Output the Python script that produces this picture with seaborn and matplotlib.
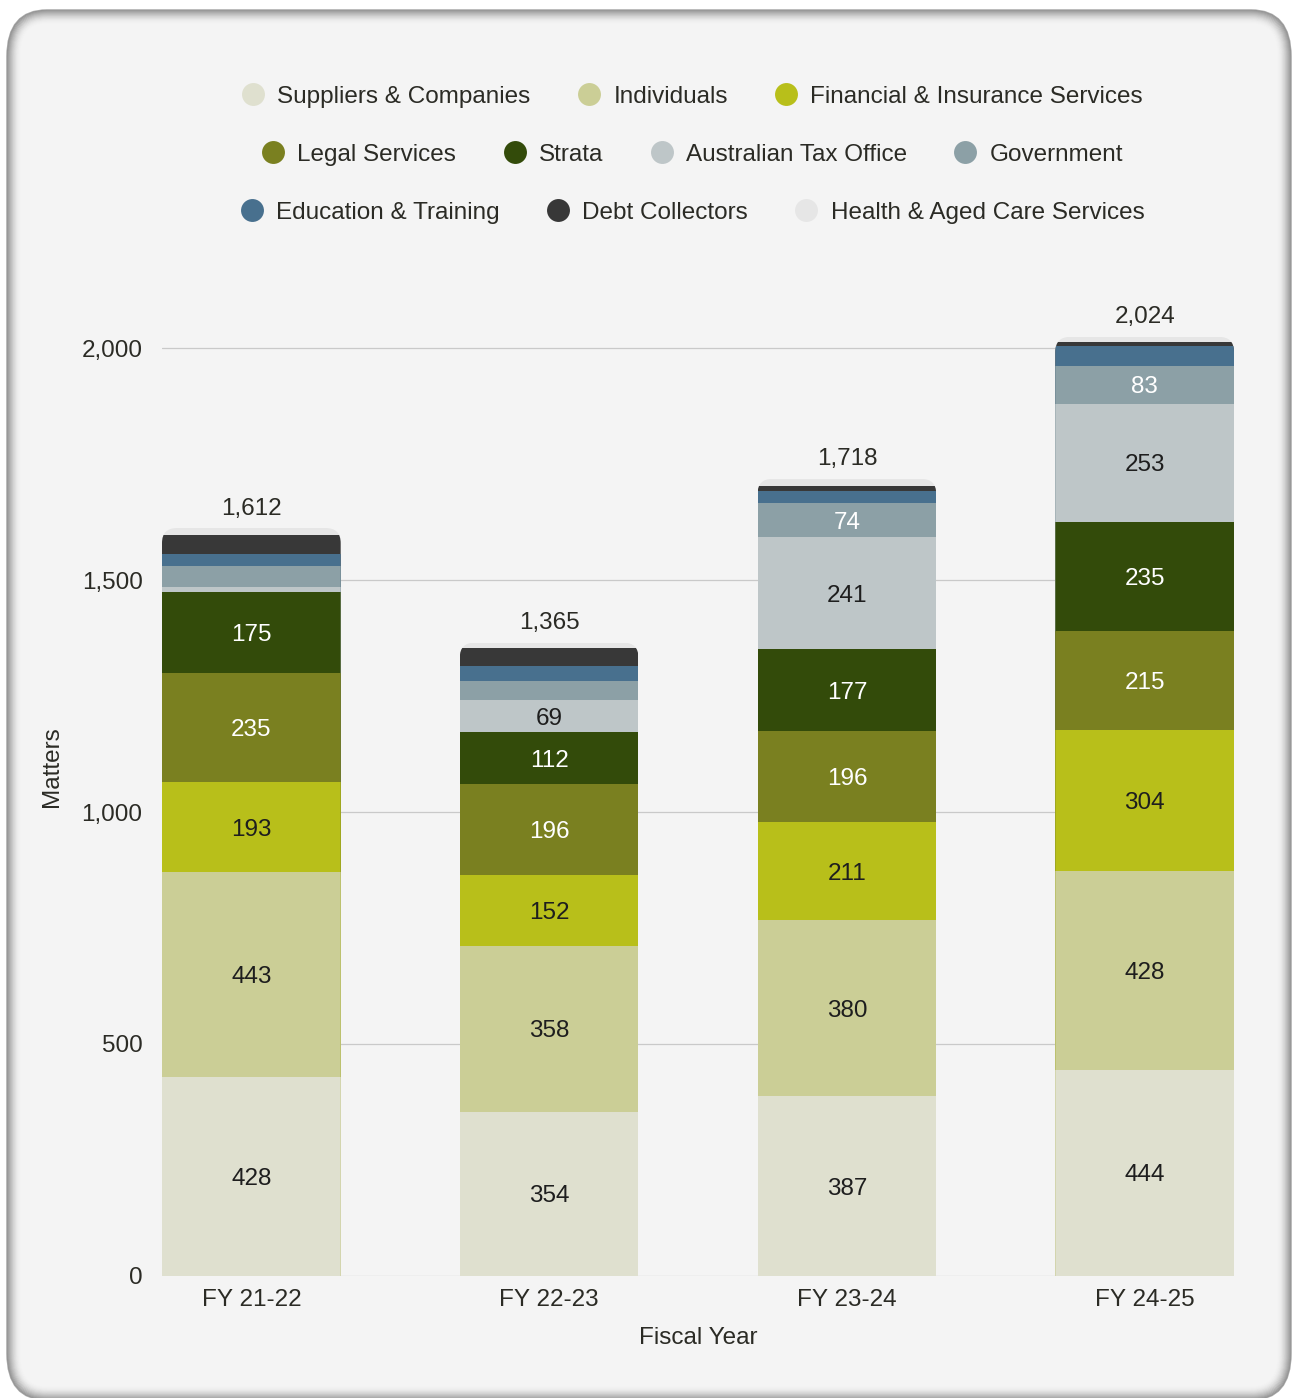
import matplotlib
matplotlib.use("Agg")
import matplotlib.pyplot as plt
from matplotlib.patches import FancyBboxPatch
from matplotlib.lines import Line2D
import seaborn as sns
import numpy as np

# ---- data -------------------------------------------------------------
years = ["FY 21-22", "FY 22-23", "FY 23-24", "FY 24-25"]
categories = [
    "Suppliers & Companies", "Individuals", "Financial & Insurance Services",
    "Legal Services", "Strata", "Australian Tax Office", "Government",
    "Education & Training", "Debt Collectors", "Health & Aged Care Services",
]
suppliers = [428, 354, 387, 444]
individuals = [443, 358, 380, 428]
financial = [193, 152, 211, 304]
legal = [235, 196, 196, 215]
strata = [175, 112, 177, 235]
ato = [11, 69, 241, 253]
government = [45, 41, 74, 83]
education = [26, 32, 25, 42]
debt = [42, 40, 11, 8]
health = [14, 11, 16, 12]
totals = [1612, 1365, 1718, 2024]

colors = ["#DFE0CF", "#CBCE96", "#B8BF1A", "#7A8020", "#334B0A",
          "#BEC6C8", "#8CA0A6", "#48708E", "#383838", "#E6E6E6"]
label_colors = ["#1E1E1E", "#1E1E1E", "#1E1E1E", "white", "white",
                "#1E1E1E", "white", "white", "white", "#1E1E1E"]
series = [suppliers, individuals, financial, legal, strata,
          ato, government, education, debt, health]

TEXT = "#2B2B25"
BG = "#F4F4F4"
FS = 17.5

sns.set_theme(style="white")
plt.rcParams["font.family"] = ["Liberation Sans", "DejaVu Sans"]

W, H = 1293, 1398
fig = plt.figure(figsize=(W / 100, H / 100), dpi=100)
fig.patch.set_facecolor("white")

# ---- rounded card with soft edge shading --------------------------------
card_x0, card_y0, card_x1, card_y1 = 7, -2, 1291, 1388  # display px (y up)
asp = W / H
for k in range(14):
    a = 0.6 * (1 - k / 14) ** 2
    p = FancyBboxPatch(((card_x0 + k) / W, (card_y0 + k) / H),
                       (card_x1 - card_x0 - 2 * k) / W,
                       (card_y1 - card_y0 - 2 * k) / H,
                       boxstyle=f"round,pad=0,rounding_size={(40 - k) / W}",
                       mutation_aspect=1 / asp,
                       transform=fig.transFigure,
                       facecolor=BG if k == 0 else "none",
                       edgecolor=(0.43, 0.43, 0.43, a), linewidth=1.1,
                       zorder=-10 + k * 0.01)
    fig.add_artist(p)

# ---- axes --------------------------------------------------------------
ax = fig.add_axes([162 / W, 1 - 1276 / H, (1234 - 162) / W, (1276 - 301.6) / H])
ax.set_facecolor("none")

cum = np.cumsum(np.array(series), axis=0)
# draw cumulative layers from the top down so each lower layer covers the rest
for i in range(len(series) - 1, -1, -1):
    sns.barplot(x=years, y=cum[i], color=colors[i], saturation=1,
                width=0.6, linewidth=0, edgecolor="none", ax=ax, zorder=2,
                antialiased=False)

ax.set_xlim(-0.3, 3.3)
ax.set_ylim(0, 2100)

# round the top corners of each stacked column
p0 = ax.transData.transform((0, 0))
p1 = ax.transData.transform((1, 1))
px_x = p1[0] - p0[0]
px_y = p1[1] - p0[1]
m_asp = px_x / px_y
r_px = 15
for j, tot in enumerate(cum[-1]):
    clip = FancyBboxPatch((j - 0.3, -200), 0.6, tot + 200,
                          boxstyle=f"round,pad=0,rounding_size={r_px / px_x}",
                          mutation_aspect=m_asp, transform=ax.transData,
                          facecolor="none", edgecolor="none")
    for bar in ax.patches:
        cx = bar.get_x() + bar.get_width() / 2
        if abs(cx - j) < 0.01:
            bar.set_clip_path(clip)

# segment value labels
for i, vals in enumerate(series):
    for j, v in enumerate(vals):
        if v >= 60:
            ax.text(j, cum[i][j] - v / 2, f"{v:,}", ha="center",
                    va="center_baseline", fontsize=FS, color=label_colors[i],
                    zorder=5)

# totals above each column
for j, t in enumerate(totals):
    ax.annotate(f"{t:,}", (j, cum[-1][j]), xytext=(0, 14), textcoords="offset points",
                ha="center", va="center", fontsize=FS, color=TEXT)

ax.set_yticks([0, 500, 1000, 1500, 2000])
ax.set_yticklabels(["0", "500", "1,000", "1,500", "2,000"])
ax.yaxis.grid(True, color="#C9C9C9", linewidth=0.9, zorder=0)
ax.set_axisbelow(True)
for s in ax.spines.values():
    s.set_visible(False)
ax.tick_params(axis="y", length=0, pad=14, labelsize=FS, labelcolor=TEXT)
ax.tick_params(axis="x", length=0, pad=9, labelsize=FS, labelcolor=TEXT)
ax.set_xlabel("Fiscal Year", fontsize=FS, color=TEXT, labelpad=12)
ax.set_ylabel("Matters", fontsize=FS, color=TEXT)
ax.yaxis.set_label_coords(-0.092, 0.523)

# ---- legend: three centred rows ----------------------------------------
def handle(c):
    return Line2D([], [], marker="o", linestyle="none", markersize=16.5,
                  markerfacecolor=c, markeredgecolor="none")

rows = [[0, 1, 2], [3, 4, 5, 6], [7, 8, 9]]
row_y = [97, 155, 213]
for idxs, y in zip(rows, row_y):
    fig.legend([handle(colors[i]) for i in idxs], [categories[i] for i in idxs],
               loc="center", bbox_to_anchor=(692 / W, 1 - y / H),
               ncol=len(idxs), frameon=False, fontsize=FS,
               handlelength=1.0, handletextpad=0.5, columnspacing=1.9,
               labelcolor=TEXT, borderaxespad=0, borderpad=0)

fig.savefig("out.png", dpi=100, facecolor=fig.get_facecolor())
